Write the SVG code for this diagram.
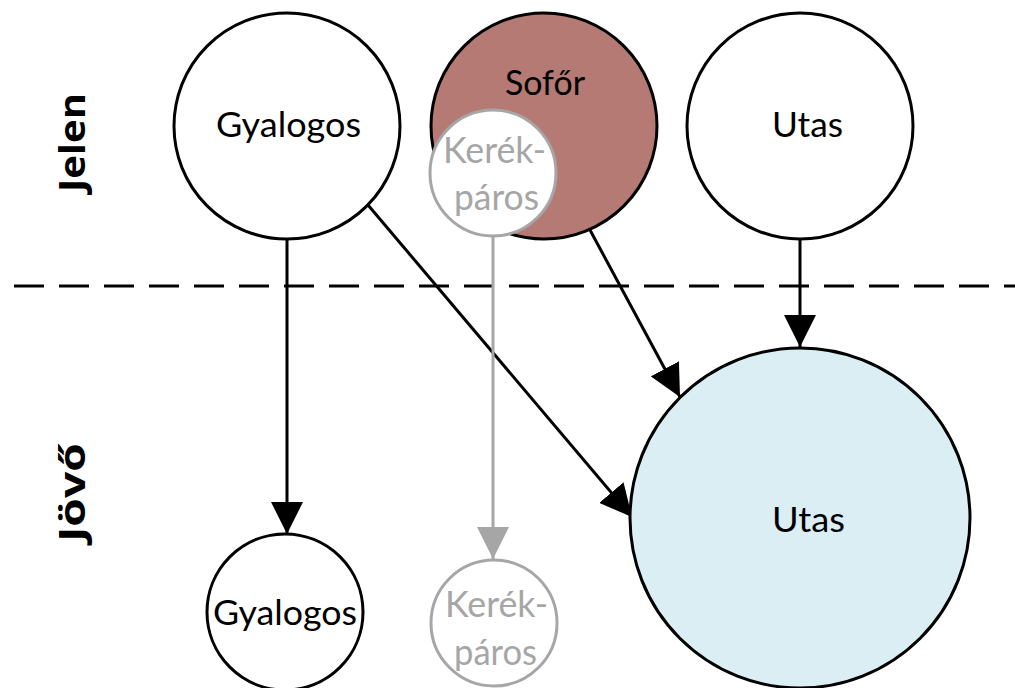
<svg xmlns="http://www.w3.org/2000/svg" width="1015" height="688" viewBox="0 0 1015 688">
<style>
.n{stroke:#000;stroke-width:3;fill:#fff}
.g{stroke:#A6A6A6;stroke-width:3;fill:#fff}
.t{font-family:Lato,"Open Sans",sans-serif;font-size:34px;text-anchor:middle;fill:#000}
.tg{font-family:Lato,"Open Sans",sans-serif;font-size:36px;text-anchor:middle;fill:#A6A6A6}
.lab{font-family:"Open Sans","Liberation Sans",sans-serif;font-size:36px;font-weight:bold;text-anchor:middle;fill:#000}
.c{stroke:#000;stroke-width:3;fill:none}
.cg{stroke:#A6A6A6;stroke-width:3;fill:none}
</style>
<defs>
<marker id="ah" markerUnits="userSpaceOnUse" markerWidth="32" markerHeight="32" viewBox="0 0 32 32" refX="32" refY="16" orient="auto"><path d="M0,0 L32,16 L0,32 Z" fill="#000"/></marker>
<marker id="ahg" markerUnits="userSpaceOnUse" markerWidth="32" markerHeight="32" viewBox="0 0 32 32" refX="32" refY="16" orient="auto"><path d="M0,0 L32,16 L0,32 Z" fill="#A6A6A6"/></marker>
</defs>
<line x1="14" y1="286" x2="1015" y2="286" stroke="#000" stroke-width="3" stroke-dasharray="30 15"/>
<text class="lab" transform="translate(85,142.5) rotate(-90)" textLength="99" lengthAdjust="spacingAndGlyphs">Jelen</text>
<text class="lab" transform="translate(85,492.5) rotate(-90)" textLength="99" lengthAdjust="spacingAndGlyphs">Jövő</text>
<g id="connectors">
<line class="c" x1="287" y1="239" x2="287" y2="534" marker-end="url(#ah)"/>
<line class="c" x1="368" y1="205" x2="632" y2="517" marker-end="url(#ah)"/>
<line class="c" x1="590" y1="230" x2="680" y2="397" marker-end="url(#ah)"/>
<line class="c" x1="800" y1="239" x2="800" y2="347" marker-end="url(#ah)"/>
<line class="cg" x1="493" y1="237" x2="493" y2="559" marker-end="url(#ahg)"/>
</g>
<g id="gyalogos-jelen"><circle class="n" cx="287" cy="126" r="113"/><text class="t" x="288.5" y="137" textLength="145" lengthAdjust="spacingAndGlyphs">Gyalogos</text></g>
<g id="sofor"><circle class="n" cx="544" cy="126" r="113" style="fill:#B47A73"/><text class="t" x="545" y="95" textLength="80" lengthAdjust="spacingAndGlyphs">Sofőr</text></g>
<g id="kerekparos-jelen"><circle class="g" cx="493" cy="173" r="63"/><text class="tg" x="494.5" y="163" textLength="103" lengthAdjust="spacingAndGlyphs">Kerék-</text><text class="tg" x="496.5" y="210" textLength="85" lengthAdjust="spacingAndGlyphs">páros</text></g>
<g id="utas-jelen"><circle class="n" cx="800" cy="126" r="113"/><text class="t" x="807.5" y="137" textLength="71" lengthAdjust="spacingAndGlyphs">Utas</text></g>
<g id="gyalogos-jovo"><circle class="n" cx="285" cy="612" r="78"/><text class="t" x="285" y="625" textLength="144" lengthAdjust="spacingAndGlyphs">Gyalogos</text></g>
<g id="kerekparos-jovo"><circle class="g" cx="494" cy="623" r="63"/><text class="tg" x="496.5" y="617" textLength="103" lengthAdjust="spacingAndGlyphs">Kerék-</text><text class="tg" x="495.5" y="665" textLength="83" lengthAdjust="spacingAndGlyphs">páros</text></g>
<g id="utas-jovo"><circle class="n" cx="800" cy="518" r="170" style="fill:#DAEEF3"/><text class="t" x="808.5" y="532" textLength="73" lengthAdjust="spacingAndGlyphs">Utas</text></g>
</svg>
